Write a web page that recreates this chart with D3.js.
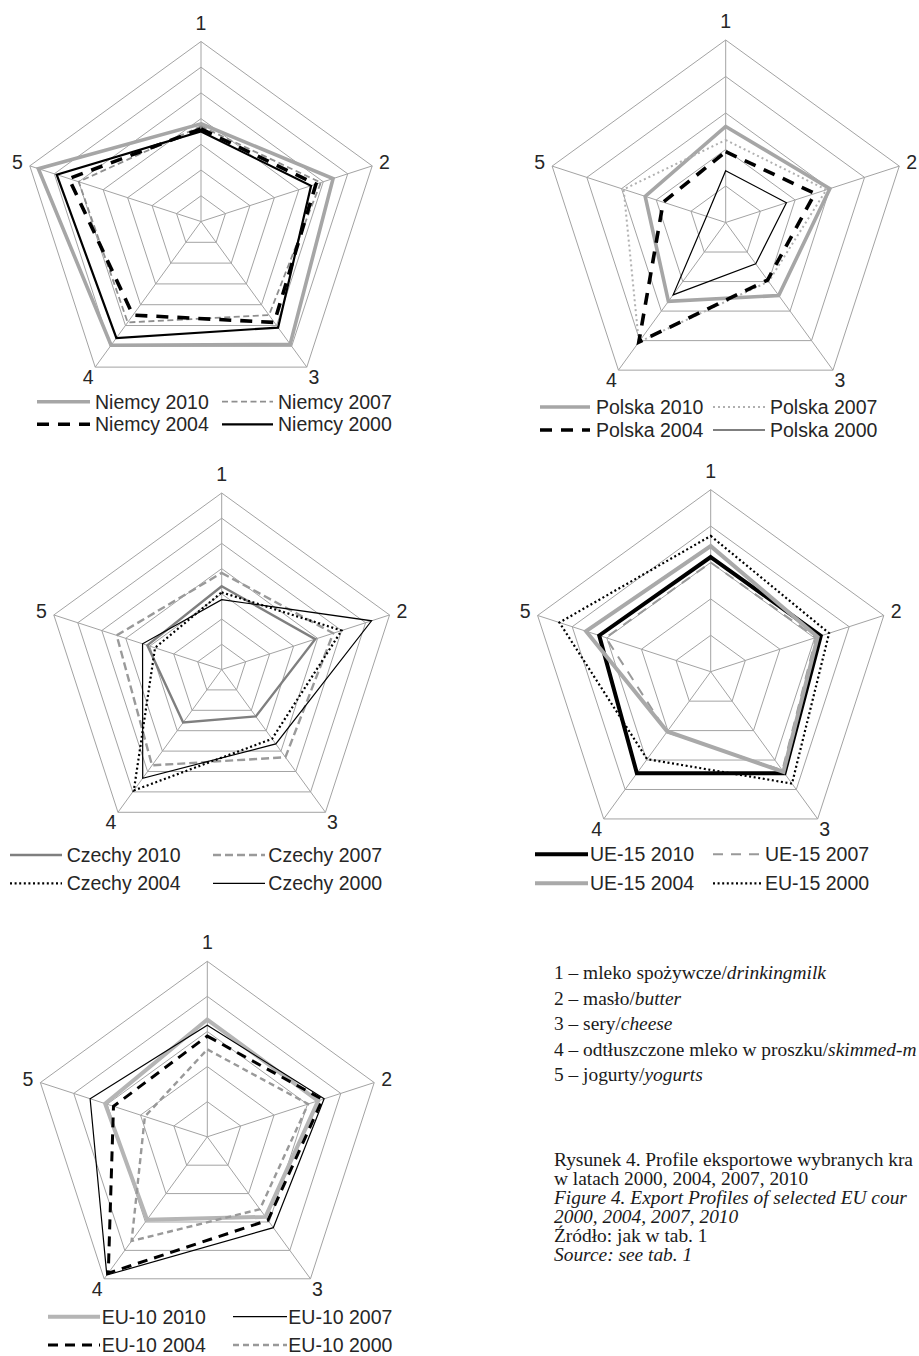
<!DOCTYPE html>
<html><head><meta charset="utf-8">
<script src="https://cdn.jsdelivr.net/npm/d3@7/dist/d3.min.js"></script>
<style>body{margin:0;background:#fff;} svg{display:block;}</style>
</head><body>
<svg id="c" width="919" height="1356"></svg>
<script>
// ---------- DATA ----------
const axisLabels = ["1", "2", "3", "4", "5"];

const niemcyNames = ["Niemcy 2010", "Niemcy 2007", "Niemcy 2004", "Niemcy 2000"];
const niemcy2010 = [3.8, 5.4, 5.9, 5.95, 6.65];
const niemcy2007 = [3.7, 4.9, 4.5, 4.85, 5.0];
const niemcy2004 = [3.6, 4.7, 4.85, 4.5, 5.4];
const niemcy2000 = [3.5, 4.5, 5.1, 5.6, 5.9];
const niemcyTicks = [1, 2, 3, 4, 5, 6, 7];

const polskaNames = ["Polska 2010", "Polska 2007", "Polska 2004", "Polska 2000"];
const polska2010 = [2.63, 3.0, 2.47, 2.67, 2.32];
const polska2007 = [2.26, 2.9, 2.0, 4.05, 2.94];
const polska2004 = [1.94, 2.57, 1.95, 4.05, 1.8];
const polska2000 = [1.42, 1.75, 1.4, 2.45, 0.55];
const polskaTicks = [1, 2, 3, 4, 5];

const czechyNames = ["Czechy 2010", "Czechy 2007", "Czechy 2004", "Czechy 2000"];
const czechy2010 = [3.3, 3.9, 2.3, 2.6, 3.1];
const czechy2007 = [3.83, 4.65, 4.3, 4.7, 4.38];
const czechy2004 = [3.06, 5.0, 3.4, 5.93, 2.78];
const czechy2000 = [2.77, 6.25, 3.65, 5.33, 3.3];
const czechyTicks = [1, 2, 3, 4, 5, 6, 7];

const ue15Names = ["UE-15 2010", "UE-15 2007", "UE-15 2004", "EU-15 2000"];
const ue152010 = [3.15, 3.18, 3.45, 3.45, 3.22];
const ue152007 = [3.0, 3.04, 3.35, 2.05, 3.03];
const ue152004 = [3.45, 3.09, 3.4, 2.03, 3.6];
const ue152000 = [3.73, 3.42, 3.8, 2.97, 4.37];
const ue15Ticks = [1, 2, 3, 4, 5];

const eu10Names = ["EU-10 2010", "EU-10 2007", "EU-10 2004", "EU-10 2000"];
const eu102010 = [3.34, 3.32, 2.82, 2.92, 3.06];
const eu102007 = [3.18, 3.5, 3.2, 4.87, 3.51];
const eu102004 = [2.87, 3.45, 2.94, 4.8, 2.81];
const eu102000 = [2.49, 3.02, 2.55, 3.67, 1.87];
const eu10Ticks = [1, 2, 3, 4, 5];

// text as visible in the reference (the page edge cuts the longer lines)
const keyLines = [
  ["1 – mleko spożywcze/", "drinkingmilk"],
  ["2 – masło/", "butter"],
  ["3 – sery/", "cheese"],
  ["4 – odtłuszczone mleko w proszku/", "skimmed-m"],
  ["5 – jogurty/", "yogurts"]
];
const captionLines = [
  ["Rysunek 4. Profile eksportowe wybranych kra", false],
  ["w latach 2000, 2004, 2007, 2010", false],
  ["Figure 4. Export Profiles of selected EU cour", true],
  ["2000, 2004, 2007, 2010", true],
  ["Źródło: jak w tab. 1", false],
  ["Source: see tab. 1", true]
];

// ---------- STYLES ----------
const S = {
  greyThick: {stroke: "#a6a6a6", width: 3.6, dash: null},
  greyDashThin: {stroke: "#8f8f8f", width: 1.8, dash: "6,3.5"},
  blackDashThick: {stroke: "#000", width: 3.6, dash: "12,9"},
  blackSolid: {stroke: "#000", width: 2.2, dash: null},
  greyDotted: {stroke: "#b0b0b0", width: 2, dash: "2,3"},
  blackThin: {stroke: "#000", width: 1.2, dash: null},
  greyMed: {stroke: "#7f7f7f", width: 2.4, dash: null},
  greyDashMed: {stroke: "#9a9a9a", width: 2.4, dash: "8,4"},
  blackDotted: {stroke: "#000", width: 2.2, dash: "2,2.6"},
  blackThick: {stroke: "#000", width: 4, dash: null},
  greyDashLong: {stroke: "#999", width: 2, dash: "10,8"},
  greyThick2: {stroke: "#a9a9a9", width: 4, dash: null},
  blackDashMed: {stroke: "#000", width: 3, dash: "10,7"},
  greyDashMed2: {stroke: "#999", width: 2.4, dash: "6,4"},
  greyThickLight: {stroke: "#b5b5b5", width: 4, dash: null}
};
const labelOffsets = [19, 13, 12, 12, 13];

const charts = [
  {cx: 201, cy: 221.5, R: 180, ticks: niemcyTicks, names: niemcyNames,
   series: [niemcy2010, niemcy2007, niemcy2004, niemcy2000],
   styles: [S.greyThick, S.greyDashThin, S.blackDashThick, S.blackSolid],
   legend: {cols: [[37, 90, 95], [222, 273, 278]], rows: [401.7, 424.3]}},
  {cx: 725.7, cy: 222.5, R: 182.5, ticks: polskaTicks, names: polskaNames,
   series: [polska2010, polska2007, polska2004, polska2000],
   styles: [S.greyThick, S.greyDotted, S.blackDashThick, S.blackThin],
   legend: {cols: [[540, 590, 596], [713, 765, 770]], rows: [407, 430]}},
  {cx: 221.7, cy: 669.5, R: 176.5, ticks: czechyTicks, names: czechyNames,
   series: [czechy2010, czechy2007, czechy2004, czechy2000],
   styles: [S.greyMed, S.greyDashMed, S.blackDotted, S.blackThin],
   legend: {cols: [[10, 62, 66.7], [213, 265, 268.3]], rows: [855, 883.3]}},
  {cx: 710.7, cy: 671.7, R: 182, ticks: ue15Ticks, names: ue15Names,
   series: [ue152010, ue152007, ue152004, ue152000],
   styles: [S.blackThick, S.greyDashLong, S.greyThick2, S.blackDotted],
   legend: {cols: [[535, 588, 590], [713, 763, 765]], rows: [854.3, 883.3]}},
  {cx: 207.3, cy: 1136.8, R: 175.5, ticks: eu10Ticks, names: eu10Names,
   series: [eu102010, eu102007, eu102004, eu102000],
   styles: [S.greyThickLight, S.blackThin, S.blackDashMed, S.greyDashMed2],
   legend: {cols: [[48, 100, 101.7], [233, 287, 288.3]], rows: [1316.7, 1345]}}
];

const svg = d3.select("#c");
const textColor = "#262626";
const gridColor = "#a3a3a3";
const n = axisLabels.length;
const angle = i => i * 2 * Math.PI / n;

charts.forEach(ch => {
  const g = svg.append("g").attr("transform", `translate(${ch.cx},${ch.cy})`);
  const maxV = d3.max(ch.ticks);
  const r = d3.scaleLinear().domain([0, maxV]).range([0, ch.R]);
  const radial = d3.lineRadial()
    .angle((d, i) => angle(i))
    .radius(d => r(d))
    .curve(d3.curveLinearClosed);

  // grid rings
  g.selectAll("path.ring").data(ch.ticks).enter().append("path")
    .attr("class", "ring")
    .attr("d", t => radial(axisLabels.map(() => t)))
    .attr("fill", "none").attr("stroke", gridColor).attr("stroke-width", 1);
  // spokes
  g.selectAll("line.spoke").data(axisLabels).enter().append("line")
    .attr("x1", 0).attr("y1", 0)
    .attr("x2", (d, i) => r(maxV) * Math.sin(angle(i)))
    .attr("y2", (d, i) => -r(maxV) * Math.cos(angle(i)))
    .attr("stroke", gridColor).attr("stroke-width", 1);
  // axis labels
  g.selectAll("text.ax").data(axisLabels).enter().append("text")
    .attr("x", (d, i) => (r(maxV) + labelOffsets[i]) * Math.sin(angle(i)))
    .attr("y", (d, i) => -(r(maxV) + labelOffsets[i]) * Math.cos(angle(i)))
    .attr("dy", "0.36em")
    .attr("text-anchor", "middle")
    .attr("font-family", "'Liberation Sans', Arial, sans-serif")
    .attr("font-size", 19.5).attr("fill", textColor)
    .text(d => d);
  // series
  ch.series.forEach((vals, k) => {
    const st = ch.styles[k];
    g.append("path")
      .attr("d", radial(vals))
      .attr("fill", "none")
      .attr("stroke", st.stroke)
      .attr("stroke-width", st.width)
      .attr("stroke-linejoin", "miter")
      .attr("stroke-dasharray", st.dash);
  });
  // legend
  ch.names.forEach((nm, k) => {
    const col = ch.legend.cols[k % 2];
    const y = ch.legend.rows[Math.floor(k / 2)];
    const st = ch.styles[k];
    svg.append("line")
      .attr("x1", col[0]).attr("x2", col[1]).attr("y1", y).attr("y2", y)
      .attr("stroke", st.stroke).attr("stroke-width", st.width)
      .attr("stroke-dasharray", st.dash);
    svg.append("text")
      .attr("x", col[2]).attr("y", y).attr("dy", "0.36em")
      .attr("font-family", "'Liberation Sans', Arial, sans-serif")
      .attr("font-size", 19.5).attr("fill", textColor)
      .text(nm);
  });
});

// key and caption text
const serif = "'Liberation Serif', 'Times New Roman', serif";
const keyG = svg.append("g");
keyLines.forEach((ln, i) => {
  const t = keyG.append("text")
    .attr("x", 554).attr("y", 979 + i * 25.5)
    .attr("font-family", serif).attr("font-size", 19.4).attr("fill", "#1a1a1a");
  t.append("tspan").text(ln[0]);
  t.append("tspan").attr("font-style", "italic").text(ln[1]);
});
captionLines.forEach((ln, i) => {
  keyG.append("text")
    .attr("x", 554).attr("y", 1166 + i * 19)
    .attr("font-family", serif).attr("font-size", 19.4).attr("fill", "#1a1a1a")
    .attr("font-style", ln[1] ? "italic" : "normal")
    .text(ln[0]);
});
</script>
</body></html>
